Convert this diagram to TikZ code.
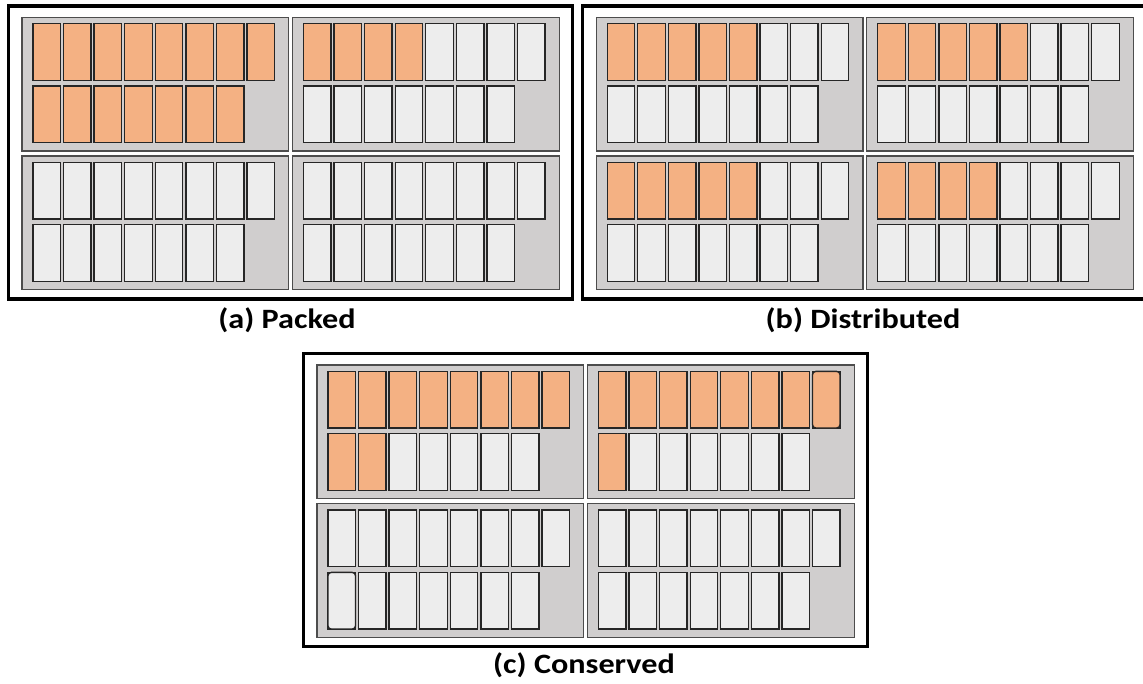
\documentclass[tikz,border=0pt]{standalone}
\usepackage{fontspec}
\setmainfont{Carlito}
\definecolor{coreon}{HTML}{F4B183}
\definecolor{coreoff}{HTML}{EDEDED}
\definecolor{sockfill}{HTML}{D0CECE}
\definecolor{sockline}{HTML}{4D4D4D}
\definecolor{cellline}{HTML}{262626}
\tikzset{
  frame/.style={draw=black, line width=2.3pt},
  sock/.style={draw=sockline, fill=sockfill, line width=1pt},
  busy/.style={draw=cellline, fill=coreon, line width=1pt},
  idle/.style={draw=cellline, fill=coreoff, line width=1pt},
  caption/.style={font=\bfseries\fontsize{21}{25}\selectfont, inner sep=0pt, anchor=base},
}
\newcommand{\wide}[1]{\scalebox{1.15}[1]{#1}}
% one socket: #1,#2 top-left corner; #3 busy cores in the upper row; #4 busy cores in the lower row
\newcommand{\drawsocket}[4]{%
  \draw[sock] (#1,#2) rectangle ++(266.8,133.6);
  \foreach \i in {0,...,7}{%
    \pgfmathtruncatemacro{\isbusy}{\i<#3 ? 1 : 0}%
    \ifnum\isbusy=1 \def\cs{busy}\else\def\cs{idle}\fi
    \draw[\cs] ({#1+11+\i*30.57},{#2+6.4}) rectangle ++(27.5,56.6);
  }%
  \foreach \i in {0,...,6}{%
    \pgfmathtruncatemacro{\isbusy}{\i<#4 ? 1 : 0}%
    \ifnum\isbusy=1 \def\cs{busy}\else\def\cs{idle}\fi
    \draw[\cs] ({#1+11+\i*30.57},{#2+68.7}) rectangle ++(27.5,56.7);
  }%
}
% outer server frame at offset #1,#2
\newcommand{\drawserver}[2]{%
  \draw[frame] ({#1+8.5},{#2+6}) rectangle ({#1+572.5},{#2+299});
}
\begin{document}
\begin{tikzpicture}[x=0.75pt,y=-0.75pt]
\useasboundingbox (0,0) rectangle (1143,684);
\clip (0,0) rectangle (1143,684);

% (a) packed
\drawserver{0}{0}
\drawsocket{22}{17.3}{8}{7}
\drawsocket{292.5}{17.3}{4}{0}
\drawsocket{22}{156}{0}{0}
\drawsocket{292.5}{156}{0}{0}
\node[caption] (capA) at (287,329) {\wide{(a) Packed}};

% (b) distributed
\drawserver{574.2}{0}
\drawsocket{596.2}{17.3}{5}{0}
\drawsocket{866.7}{17.3}{5}{0}
\drawsocket{596.2}{156}{5}{0}
\drawsocket{866.7}{156}{4}{0}
\node[caption] (capB) at (863,329) {\wide{(b) Distributed}};

% (c) conserved
\drawserver{295}{347.7}
\drawsocket{317}{365}{8}{2}
\drawsocket{587.5}{365}{8}{1}
\drawsocket{317}{503.7}{0}{0}
\drawsocket{587.5}{503.7}{0}{0}
% two cores drawn with rounded corners
\draw[busy, rounded corners=2.5pt] ({587.5+11+7*30.57},{365+6.4}) rectangle ++(27.5,56.6);
\draw[idle, rounded corners=2.5pt] ({317+11},{503.7+68.7}) rectangle ++(27.5,56.7);
\node[caption] (capC) at (584,673) {\wide{(c) Conserved}};
\end{tikzpicture}
\end{document}
